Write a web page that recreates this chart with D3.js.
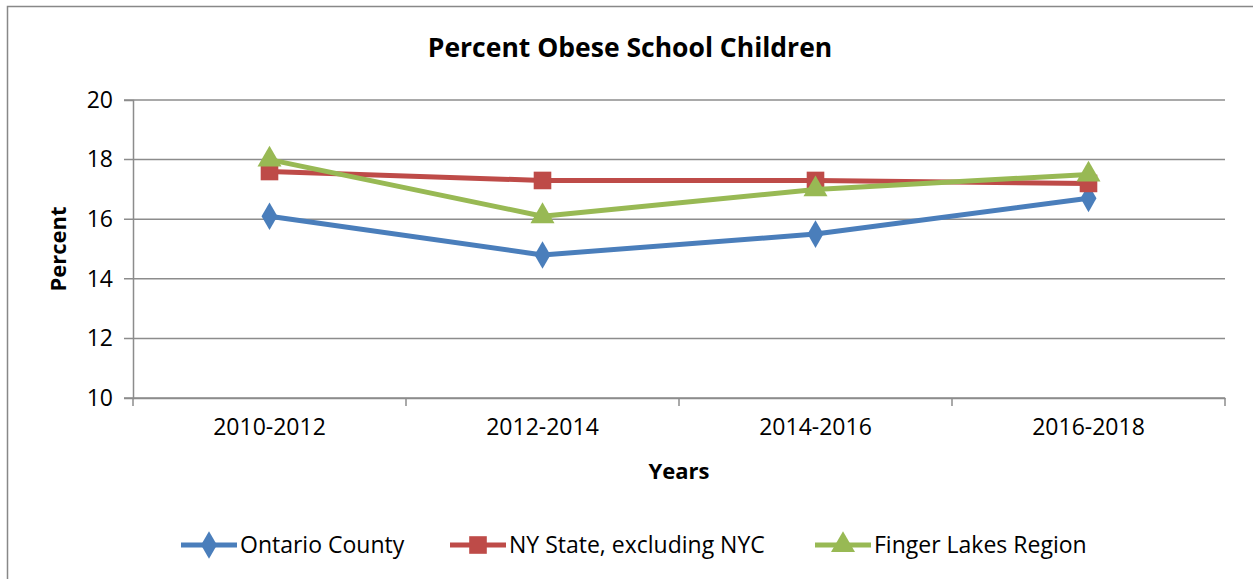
<!DOCTYPE html>
<html>
<head>
<meta charset="utf-8">
<script src="https://cdn.jsdelivr.net/npm/d3@7"></script>
<style>
  body { margin: 0; background: #fff; }
  svg { display: block; font-family: 'Open Sans', sans-serif; }
</style>
</head>
<body>
<svg id="chart"></svg>
<script>
// data
var categories = ['2010-2012', '2012-2014', '2014-2016', '2016-2018']
var ontario = [16.1, 14.8, 15.5, 16.7]
var nyState = [17.6, 17.3, 17.3, 17.2]
var fingerLakes = [18.0, 16.1, 17.0, 17.5]
var yTicks = [10, 12, 14, 16, 18, 20]
var seriesNames = ['Ontario County', 'NY State, excluding NYC', 'Finger Lakes Region']

var W = 1253, H = 579
var plot = { left: 133, right: 1225, top: 100, bottom: 398 }
var labelSize = 23

var svg = d3.select('#chart').attr('width', W).attr('height', H)

// outer chart border
svg.append('rect')
    .attr('x', 7.5).attr('y', 6.5)
    .attr('width', W + 20).attr('height', H + 20)
    .attr('fill', 'none')
    .attr('stroke', '#888')
    .attr('stroke-width', 1.5)

var x = d3.scaleBand().domain(categories).range([plot.left, plot.right]).padding(0)
var y = d3.scaleLinear().domain([10, 20]).range([plot.bottom, plot.top])

// gridlines
svg.append('g')
    .selectAll('line')
    .data(yTicks)
    .enter()
    .append('line')
    .attr('x1', plot.left - 9)
    .attr('x2', plot.right)
    .attr('y1', d => y(d))
    .attr('y2', d => y(d))
    .attr('stroke', '#8c8c8c')
    .attr('stroke-width', 1.5)

// y axis
var yAxis = svg.append('g')
    .attr('transform', `translate(${plot.left}, 0)`)
    .call(d3.axisLeft(y).tickValues(yTicks).tickSize(9).tickPadding(11))
yAxis.attr('font-size', labelSize).attr('font-family', "'Open Sans', sans-serif")
yAxis.select('.domain').attr('stroke', '#8c8c8c').attr('stroke-width', 1.5)
yAxis.selectAll('.tick line').attr('stroke', 'none')
yAxis.selectAll('text').attr('fill', '#000')

// x axis: tick marks at category boundaries
var xAxis = svg.append('g')
    .attr('transform', `translate(0, ${plot.bottom})`)
    .call(d3.axisBottom(x).tickSize(0).tickPadding(21))
xAxis.attr('font-size', labelSize).attr('font-family', "'Open Sans', sans-serif")
xAxis.select('.domain').attr('stroke', '#8c8c8c').attr('stroke-width', 1.5)
xAxis.selectAll('text').attr('fill', '#000')

var bounds = categories.map(c => x(c)).concat([plot.right])
svg.append('g')
    .selectAll('line')
    .data(bounds)
    .enter()
    .append('line')
    .attr('x1', d => d).attr('x2', d => d)
    .attr('y1', plot.bottom).attr('y2', plot.bottom + 8)
    .attr('stroke', '#8c8c8c')
    .attr('stroke-width', 1.5)

// titles
svg.append('text')
    .attr('x', 630).attr('y', 57)
    .attr('text-anchor', 'middle')
    .attr('font-size', 26.5).attr('font-weight', 'bold')
    .text('Percent Obese School Children')

svg.append('text')
    .attr('x', 679).attr('y', 479)
    .attr('text-anchor', 'middle')
    .attr('font-size', 22).attr('font-weight', 'bold')
    .text('Years')

svg.append('text')
    .attr('transform', `translate(66, 249) rotate(-90)`)
    .attr('text-anchor', 'middle')
    .attr('font-size', 22).attr('font-weight', 'bold')
    .text('Percent')

// series
var series = [
    { name: seriesNames[0], values: ontario, color: '#4A7EBB', marker: d3.symbolDiamond, size: 220 },
    { name: seriesNames[1], values: nyState, color: '#BE4B48', marker: d3.symbolSquare, size: 310 },
    { name: seriesNames[2], values: fingerLakes, color: '#98B954', marker: d3.symbolTriangle, size: 250 }
]

var cx = c => x(c) + x.bandwidth() / 2
var line = d3.line()
    .x((d, i) => cx(categories[i]))
    .y(d => y(d))

series.forEach(s => {
    svg.append('path')
        .datum(s.values)
        .attr('d', line)
        .attr('fill', 'none')
        .attr('stroke', s.color)
        .attr('stroke-width', 5)
        .attr('stroke-linejoin', 'round')

    svg.append('g')
        .selectAll('path')
        .data(s.values)
        .enter()
        .append('path')
        .attr('transform', (d, i) => `translate(${cx(categories[i])}, ${y(d)})`)
        .attr('d', d3.symbol().type(s.marker).size(s.size))
        .attr('fill', s.color)
})

// legend
var legendX = [181, 450, 815]
var legend = svg.append('g')
    .selectAll('g')
    .data(series)
    .enter()
    .append('g')
    .attr('transform', (d, i) => `translate(${legendX[i]}, 545)`)

legend.append('line')
    .attr('x1', 0).attr('x2', 56)
    .attr('stroke', d => d.color)
    .attr('stroke-width', 5)

legend.append('path')
    .attr('transform', 'translate(28, 0)')
    .attr('d', d => d3.symbol().type(d.marker).size(d.size)())
    .attr('fill', d => d.color)

legend.append('text')
    .attr('x', 59).attr('y', 8)
    .attr('font-size', labelSize)
    .text(d => d.name)
</script>
</body>
</html>
